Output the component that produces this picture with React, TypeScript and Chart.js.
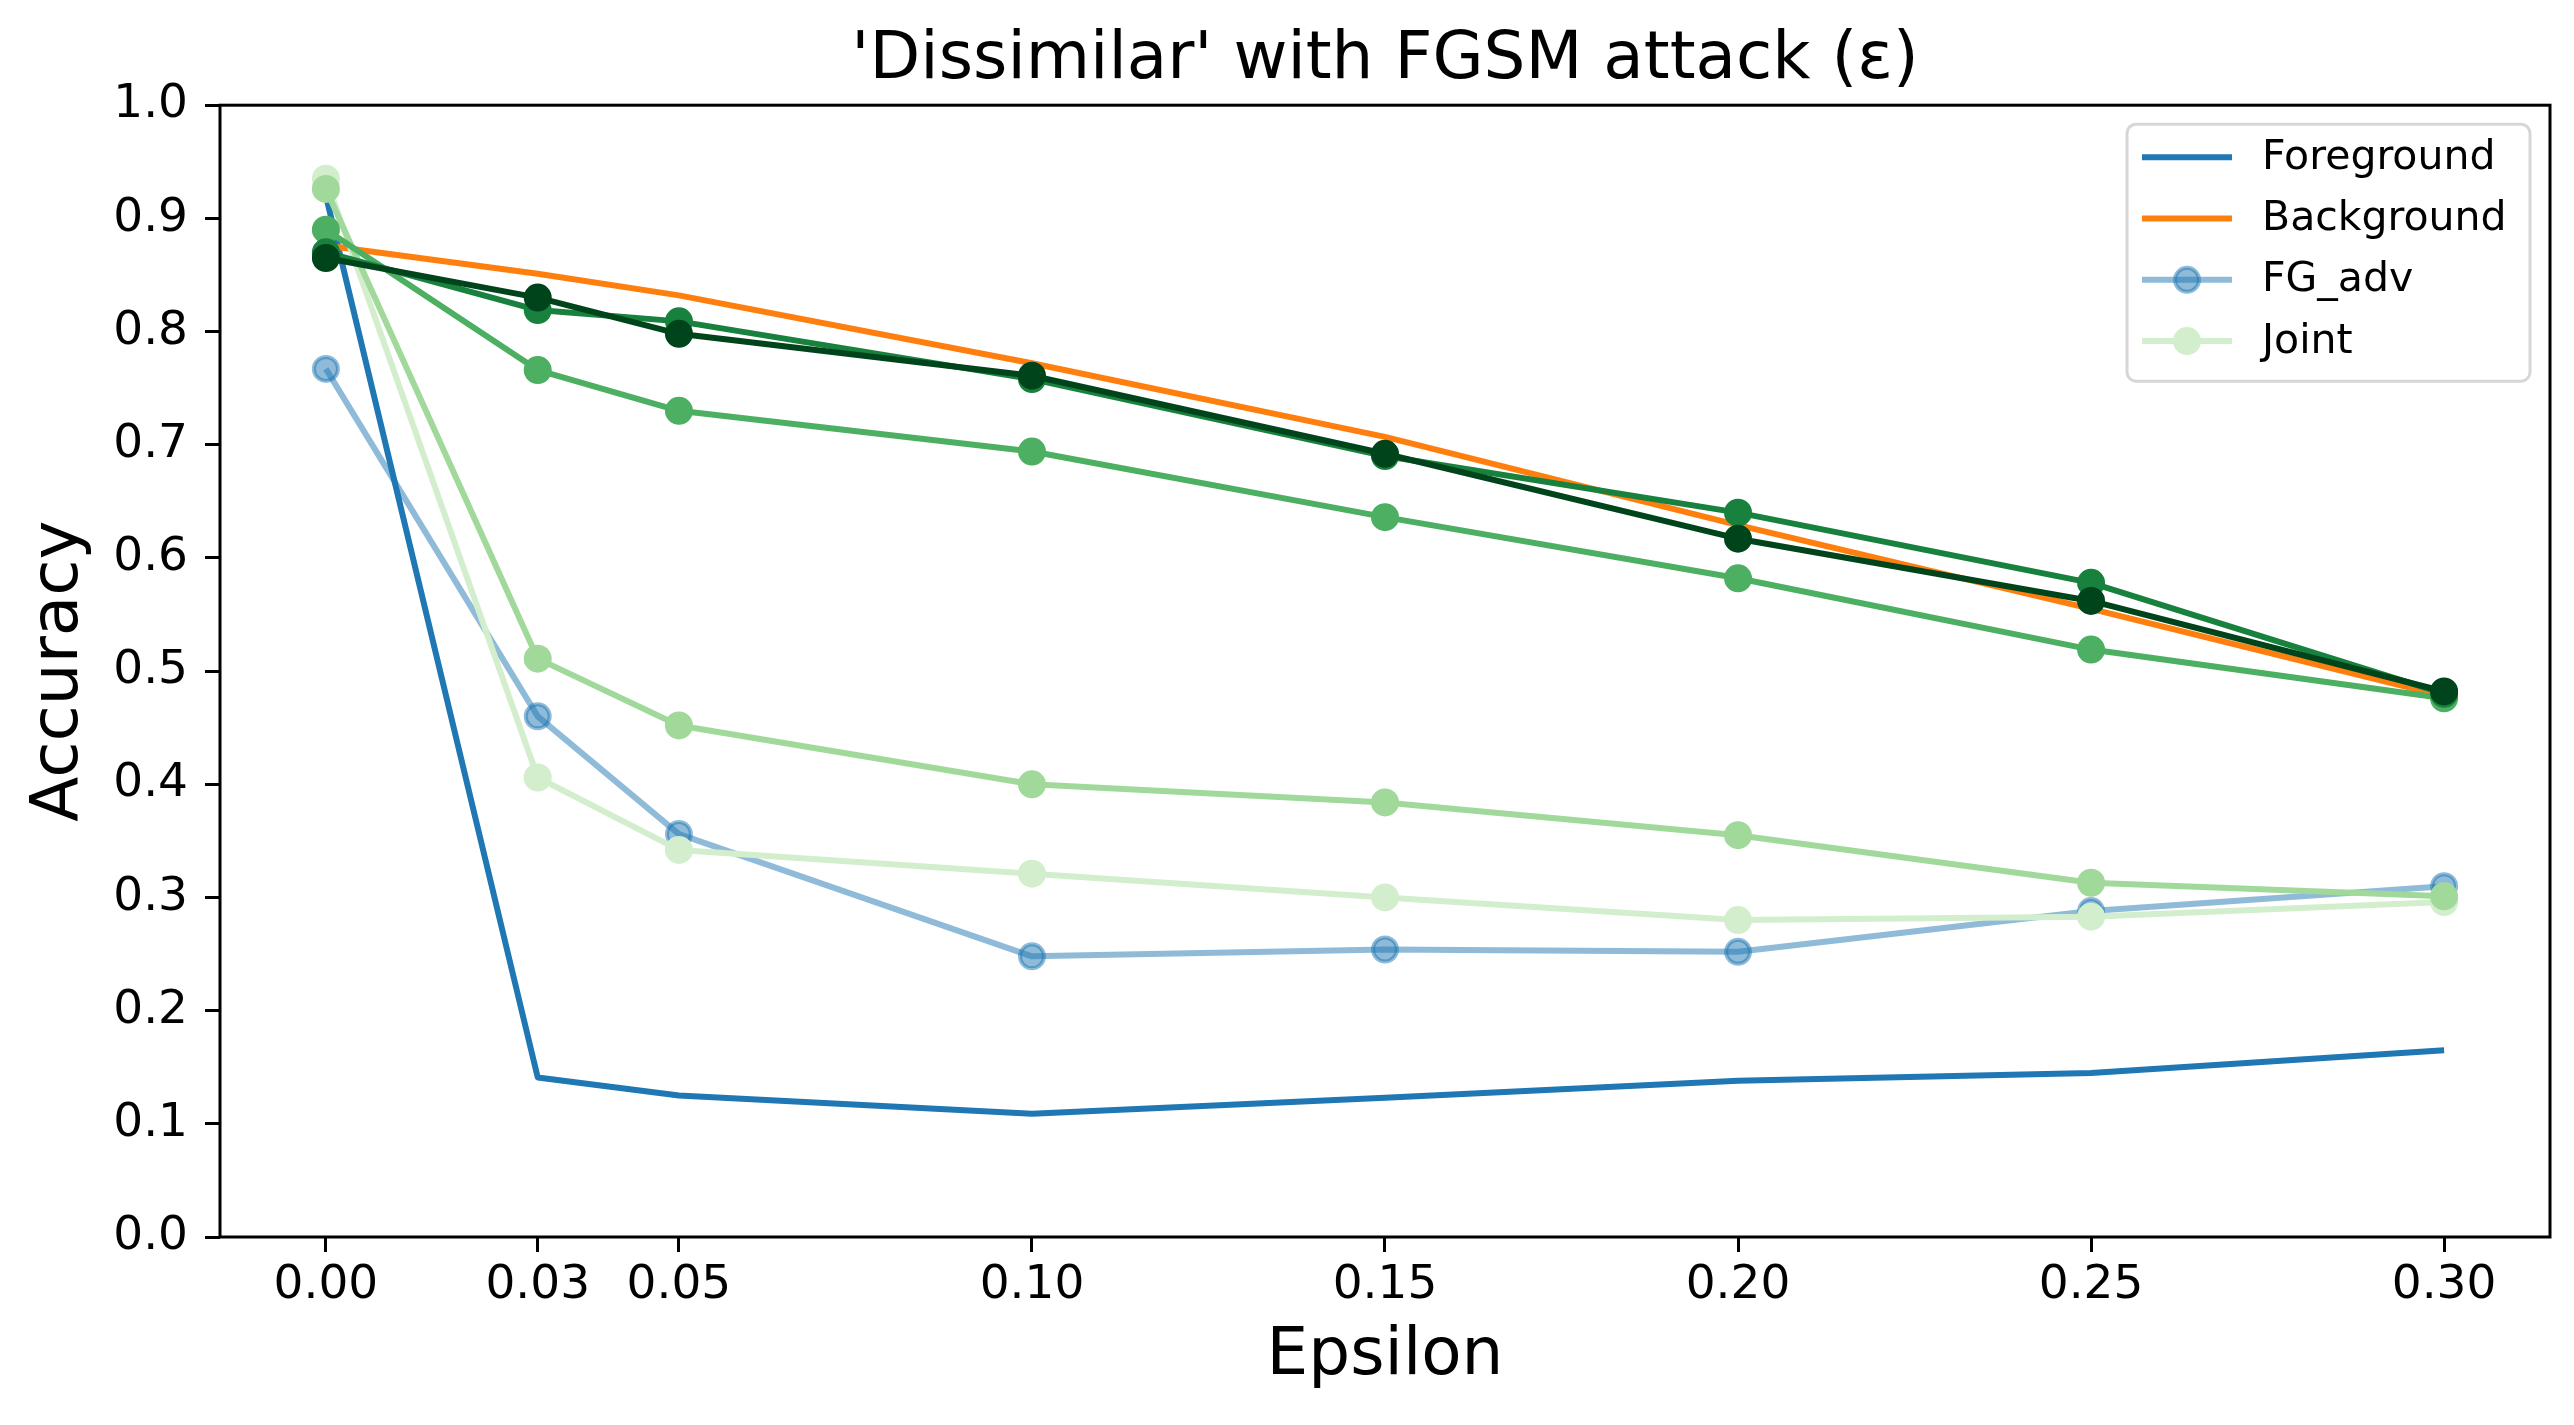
import React, { useEffect, useRef } from "react";
import { Chart, registerables } from "chart.js";

Chart.register(...registerables);

// epsilon values on the x axis
const epsilons = [0, 0.03, 0.05, 0.1, 0.15, 0.2, 0.25, 0.3];

// accuracy per epsilon
const foreground = [0.92, 0.141, 0.125, 0.109, 0.123, 0.138, 0.145, 0.165];
const background = [0.876, 0.851, 0.832, 0.772, 0.707, 0.629, 0.555, 0.478];
const fgAdv = [0.767, 0.46, 0.356, 0.248, 0.254, 0.252, 0.288, 0.31];
const joint = [0.935, 0.406, 0.342, 0.321, 0.3, 0.28, 0.283, 0.296];
const greenLight = [0.926, 0.511, 0.452, 0.4, 0.384, 0.355, 0.313, 0.301];
const greenMid = [0.89, 0.766, 0.73, 0.694, 0.636, 0.582, 0.519, 0.476];
const greenDark = [0.87, 0.819, 0.809, 0.758, 0.69, 0.64, 0.578, 0.48];
const greenDarkest = [0.865, 0.83, 0.798, 0.761, 0.692, 0.617, 0.562, 0.482];

const titleText = "'Dissimilar' with FGSM attack (\u03b5)";
const xLabel = "Epsilon";
const yLabel = "Accuracy";

const FONT = "'DejaVu Sans', 'Liberation Sans', sans-serif";

const toPoints = (vals: number[]) =>
  vals.map((y, i) => ({ x: epsilons[i], y }));

const legendItems = [
  { label: "Foreground", color: "#1f77b4", fill: "#1f77b4", marker: false },
  { label: "Background", color: "#ff7f0e", fill: "#ff7f0e", marker: false },
  {
    label: "FG_adv",
    color: "rgba(31,119,180,0.5)",
    fill: "rgba(31,119,180,0.5)",
    marker: true,
  },
  { label: "Joint", color: "#d3eecd", fill: "#d3eecd", marker: true },
];

// box around the axes (matplotlib spines)
const framePlugin = {
  id: "frame",
  afterDatasetsDraw(chart: Chart) {
    const { ctx, chartArea } = chart;
    ctx.save();
    ctx.strokeStyle = "#000";
    ctx.lineWidth = 3;
    ctx.strokeRect(
      chartArea.left,
      chartArea.top,
      chartArea.right - chartArea.left,
      chartArea.bottom - chartArea.top
    );
    ctx.restore();
  },
};

const legendPlugin = {
  id: "mplLegend",
  afterDraw(chart: Chart) {
    const { ctx, chartArea } = chart;
    const w = 403;
    const h = 257;
    const left = chartArea.right - 423;
    const top = chartArea.top + 19;
    ctx.save();
    ctx.beginPath();
    ctx.roundRect(left, top, w, h, 9);
    ctx.fillStyle = "rgba(255,255,255,0.8)";
    ctx.fill();
    ctx.strokeStyle = "#d6d6d6";
    ctx.lineWidth = 3;
    ctx.stroke();

    ctx.font = `41px ${FONT}`;
    ctx.textBaseline = "middle";
    ctx.textAlign = "left";
    legendItems.forEach((item, i) => {
      const y = top + 33 + i * 61.3;
      ctx.beginPath();
      ctx.moveTo(left + 15, y);
      ctx.lineTo(left + 105, y);
      ctx.strokeStyle = item.color;
      ctx.lineWidth = 6;
      ctx.stroke();
      if (item.marker) {
        ctx.beginPath();
        ctx.arc(left + 60, y, 12, 0, Math.PI * 2);
        ctx.fillStyle = item.fill;
        ctx.fill();
        ctx.strokeStyle = item.color;
        ctx.lineWidth = 4;
        ctx.stroke();
      }
      ctx.fillStyle = "#000";
      ctx.fillText(item.label, left + 135, y + 1);
    });
    ctx.restore();
  },
};

function lineSet(
  label: string,
  vals: number[],
  color: string,
  order: number,
  marker: boolean,
  fill?: string
) {
  return {
    label,
    data: toPoints(vals),
    borderColor: color,
    backgroundColor: fill ?? color,
    pointBackgroundColor: fill ?? color,
    pointBorderColor: color,
    borderWidth: 6,
    borderJoinStyle: "round" as const,
    pointRadius: marker ? 12 : 0,
    pointBorderWidth: marker ? 4 : 0,
    tension: 0,
    order,
  };
}

const ChartView: React.FC = () => {
  const canvasRef = useRef<HTMLCanvasElement>(null);

  useEffect(() => {
    if (!canvasRef.current) return;
    const chart = new Chart(canvasRef.current, {
      type: "line",
      data: {
        datasets: [
          lineSet("Foreground", foreground, "#1f77b4", 8, false),
          lineSet("Background", background, "#ff7f0e", 7, false),
          lineSet("FG_adv", fgAdv, "rgba(31,119,180,0.5)", 6, true),
          lineSet("Joint", joint, "#d3eecd", 5, true),
          lineSet("g1", greenLight, "#a1d99b", 4, true),
          lineSet("g2", greenMid, "#4daf62", 3, true),
          lineSet("g3", greenDark, "#17813d", 2, true),
          lineSet("g4", greenDarkest, "#00441b", 1, true),
        ],
      },
      options: {
        animation: false,
        responsive: true,
        maintainAspectRatio: false,
        devicePixelRatio: 1,
        events: [],
        layout: {
          autoPadding: false,
          padding: { left: 0, right: 24, top: 0, bottom: 0 },
        },
        plugins: {
          legend: { display: false },
          tooltip: { enabled: false },
          title: {
            display: true,
            text: titleText,
            fullSize: false,
            color: "#000",
            font: { family: FONT, size: 66, weight: "normal", lineHeight: 1.2 },
            padding: { top: 21, bottom: 5 },
          },
        },
        scales: {
          x: {
            type: "linear",
            min: -0.015,
            max: 0.315,
            afterBuildTicks: (scale: any) => {
              scale.ticks = epsilons.map((v) => ({ value: v }));
            },
            afterFit: (scale: any) => {
              scale.height = 188;
            },
            grid: {
              display: true,
              drawOnChartArea: false,
              drawTicks: true,
              tickLength: 15,
              tickWidth: 3,
              tickColor: "#000",
            },
            border: { display: false },
            ticks: {
              color: "#000",
              font: { family: FONT, size: 47 },
              padding: 6,
              maxRotation: 0,
              autoSkip: false,
              callback: (v: any) => Number(v).toFixed(2),
            },
            title: {
              display: true,
              text: xLabel,
              color: "#000",
              font: { family: FONT, size: 66, lineHeight: 1.2 },
              padding: { top: 0, bottom: 29 },
            },
          },
          y: {
            type: "linear",
            min: 0,
            max: 1,
            afterFit: (scale: any) => {
              scale.width = 220;
            },
            grid: {
              display: true,
              drawOnChartArea: false,
              drawTicks: true,
              tickLength: 15,
              tickWidth: 3,
              tickColor: "#000",
            },
            border: { display: false },
            ticks: {
              stepSize: 0.1,
              color: "#000",
              font: { family: FONT, size: 47 },
              padding: 17,
              callback: (v: any) => Number(v).toFixed(1),
            },
            title: {
              display: true,
              text: yLabel,
              color: "#000",
              font: { family: FONT, size: 66, lineHeight: 1.2 },
              padding: { top: 20, bottom: 0 },
            },
          },
        },
      },
      plugins: [framePlugin, legendPlugin],
    });

    return () => {
      chart.destroy();
    };
  }, []);

  return <canvas ref={canvasRef} />;
};

export default function App() {
  return (
    <div
      style={{
        position: "fixed",
        left: 0,
        top: 0,
        width: 2574,
        height: 1425,
        background: "#fff",
      }}
    >
      <ChartView />
    </div>
  );
}
